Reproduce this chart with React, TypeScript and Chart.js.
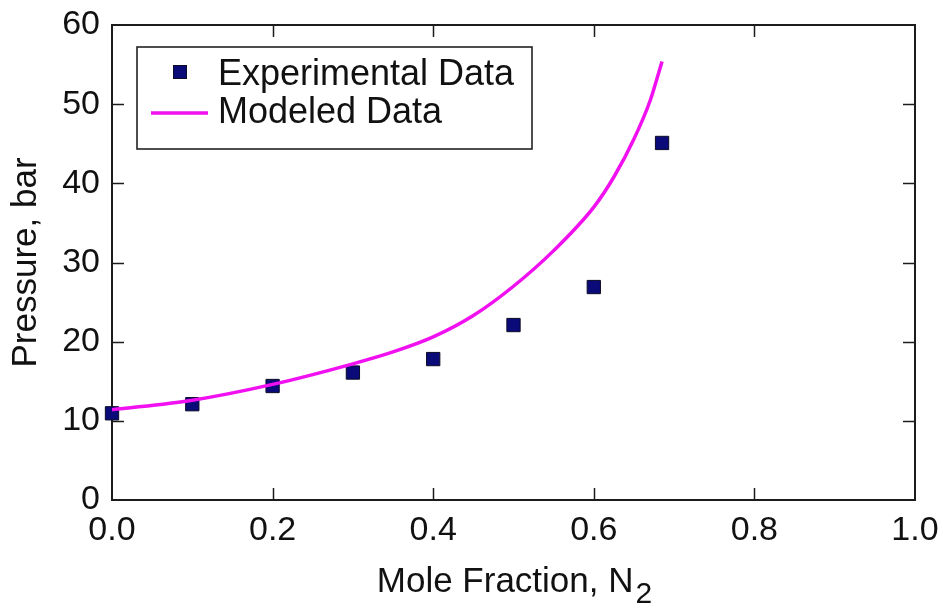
import React, { useEffect, useRef } from "react";
import { Chart, registerables } from "chart.js";

Chart.register(...registerables);

// ---- data ----
const expX = [0, 0.1, 0.2, 0.3, 0.4, 0.5, 0.6, 0.685];
const expY = [10.95, 12.1, 14.4, 16.1, 17.8, 22.1, 26.9, 45.1];

const modelX = [0, 0.1, 0.2, 0.3, 0.35, 0.4, 0.45, 0.5, 0.55, 0.6, 0.625, 0.65, 0.67, 0.685];
const modelY = [11.4, 12.6, 14.6, 17.2, 18.7, 20.6, 23.3, 27.0, 31.5, 37.0, 40.8, 45.6, 50.4, 55.4];

const xTicks = [0, 0.2, 0.4, 0.6, 0.8, 1.0];
const xTickLabels = ["0.0", "0.2", "0.4", "0.6", "0.8", "1.0"];
const yTicks = [0, 10, 20, 30, 40, 50, 60];
const yTickLabels = ["0", "10", "20", "30", "40", "50", "60"];

const seriesNames = ["Experimental Data", "Modeled Data"];
const xTitleMain = "Mole Fraction, N";
const xTitleSub = "2";
const yTitle = "Pressure, bar";

const FONT = '"Liberation Sans", Arial, Helvetica, sans-serif';

const decorPlugin = {
  id: "decor",
  beforeDatasetsDraw(chart: any) {
    const { ctx, chartArea: a, scales } = chart;
    ctx.save();
    ctx.strokeStyle = "#1c1c1c";
    ctx.lineWidth = 2;
    ctx.strokeRect(a.left, a.top, a.right - a.left, a.bottom - a.top);
    ctx.lineWidth = 1.5;
    const tl = 12;
    ctx.beginPath();
    for (let i = 1; i < yTicks.length - 1; i++) {
      const y = Math.round(scales.y.getPixelForValue(yTicks[i])) + 0.5;
      ctx.moveTo(a.left, y);
      ctx.lineTo(a.left + tl, y);
      ctx.moveTo(a.right, y);
      ctx.lineTo(a.right - tl, y);
    }
    for (let i = 1; i < xTicks.length - 1; i++) {
      const x = Math.round(scales.x.getPixelForValue(xTicks[i])) + 0.5;
      ctx.moveTo(x, a.bottom);
      ctx.lineTo(x, a.bottom - tl);
      ctx.moveTo(x, a.top);
      ctx.lineTo(x, a.top + tl);
    }
    ctx.stroke();
    ctx.restore();
  },
  afterDraw(chart: any) {
    const { ctx, chartArea: a } = chart;
    const ds = chart.data.datasets;
    ctx.save();
    // legend box
    const lx = a.left + 25;
    const ly = a.top + 22;
    const lw = 395;
    const lh = 102;
    ctx.fillStyle = "#ffffff";
    ctx.fillRect(lx, ly, lw, lh);
    ctx.strokeStyle = "#222222";
    ctx.lineWidth = 1.6;
    ctx.strokeRect(lx, ly, lw, lh);
    ctx.font = `36px ${FONT}`;
    ctx.fillStyle = "#111111";
    ctx.textAlign = "left";
    ctx.textBaseline = "alphabetic";
    const textX = lx + 81;
    // entry 1: marker
    const s = 13;
    const mx = lx + 43;
    const my = ly + 25;
    ctx.fillStyle = ds[0].backgroundColor;
    ctx.strokeStyle = ds[0].borderColor;
    ctx.lineWidth = 1;
    ctx.fillRect(mx - s / 2, my - s / 2, s, s);
    ctx.strokeRect(mx - s / 2, my - s / 2, s, s);
    ctx.fillStyle = "#111111";
    ctx.fillText(ds[0].label, textX, ly + 38);
    // entry 2: line
    ctx.strokeStyle = ds[1].borderColor;
    ctx.lineWidth = 3.5;
    ctx.beginPath();
    ctx.moveTo(lx + 14, ly + 66);
    ctx.lineTo(lx + 71, ly + 66);
    ctx.stroke();
    ctx.fillText(ds[1].label, textX, ly + 76);

    // x title with subscript
    ctx.font = `35px ${FONT}`;
    const wMain = ctx.measureText(xTitleMain).width;
    ctx.font = `30px ${FONT}`;
    const wSub = ctx.measureText(xTitleSub).width;
    const cx = (a.left + a.right) / 2 + 1;
    const startX = cx - (wMain + wSub + 2) / 2;
    ctx.fillStyle = "#111111";
    ctx.font = `35px ${FONT}`;
    ctx.fillText(xTitleMain, startX, 592);
    ctx.font = `30px ${FONT}`;
    ctx.fillText(xTitleSub, startX + wMain + 2, 603);
    ctx.restore();
  },
};

export default function App() {
  const ref = useRef<HTMLCanvasElement | null>(null);

  useEffect(() => {
    document.body.style.margin = "0";
    const canvas = ref.current;
    if (!canvas) return;
    const chart = new Chart(canvas, {
      type: "scatter",
      data: {
        datasets: [
          {
            label: seriesNames[0],
            data: expX.map((x, i) => ({ x, y: expY[i] })),
            pointStyle: "rect",
            pointRadius: 9.4,
            pointHoverRadius: 9.4,
            backgroundColor: "#0a0a78",
            borderColor: "#0b0b25",
            borderWidth: 1,
            showLine: false,
            clip: false,
            order: 2,
          },
          {
            label: seriesNames[1],
            data: modelX.map((x, i) => ({ x, y: modelY[i] })),
            showLine: true,
            pointRadius: 0,
            pointHoverRadius: 0,
            borderColor: "#f010f0",
            backgroundColor: "#f010f0",
            borderWidth: 3.5,
            cubicInterpolationMode: "monotone",
            clip: false,
            order: 1,
          },
        ],
      },
      options: {
        responsive: false,
        animation: false,
        events: [],
        layout: { padding: { top: 25, right: 31, left: 0, bottom: 0 } },
        plugins: {
          legend: { display: false },
          tooltip: { enabled: false },
        },
        scales: {
          x: {
            type: "linear",
            min: xTicks[0],
            max: xTicks[xTicks.length - 1],
            afterBuildTicks: (s: any) => {
              s.ticks = xTicks.map((v) => ({ value: v }));
            },
            afterFit: (s: any) => {
              s.height = 104;
              s.paddingLeft = 0;
              s.paddingRight = 0;
              s.paddingTop = 0;
              s.paddingBottom = 0;
            },
            grid: { display: false, drawTicks: false },
            border: { display: false },
            ticks: {
              padding: 10,
              color: "#111111",
              font: { family: FONT, size: 34 },
              maxRotation: 0,
              autoSkip: false,
              callback: (v: any) => {
                const i = xTicks.findIndex((t) => Math.abs(t - Number(v)) < 1e-9);
                return i >= 0 ? xTickLabels[i] : "";
              },
            },
          },
          y: {
            type: "linear",
            min: yTicks[0],
            max: yTicks[yTicks.length - 1],
            afterBuildTicks: (s: any) => {
              s.ticks = yTicks.map((v) => ({ value: v }));
            },
            afterFit: (s: any) => {
              s.width = 112;
              s.paddingLeft = 0;
              s.paddingRight = 0;
              s.paddingTop = 0;
              s.paddingBottom = 0;
            },
            grid: { display: false, drawTicks: false },
            border: { display: false },
            title: {
              display: true,
              text: yTitle,
              color: "#111111",
              font: { family: FONT, size: 35 },
              padding: { top: 5, bottom: 0 },
            },
            ticks: {
              padding: 12,
              color: "#111111",
              font: { family: FONT, size: 34 },
              autoSkip: false,
              callback: (v: any) => {
                const i = yTicks.findIndex((t) => Math.abs(t - Number(v)) < 1e-9);
                return i >= 0 ? yTickLabels[i] : "";
              },
            },
          },
        },
      },
      plugins: [decorPlugin],
    } as any);
    return () => chart.destroy();
  }, []);

  return (
    <div style={{ width: 946, height: 604, background: "#ffffff" }}>
      <canvas ref={ref} width={946} height={604} style={{ display: "block" }} />
    </div>
  );
}
